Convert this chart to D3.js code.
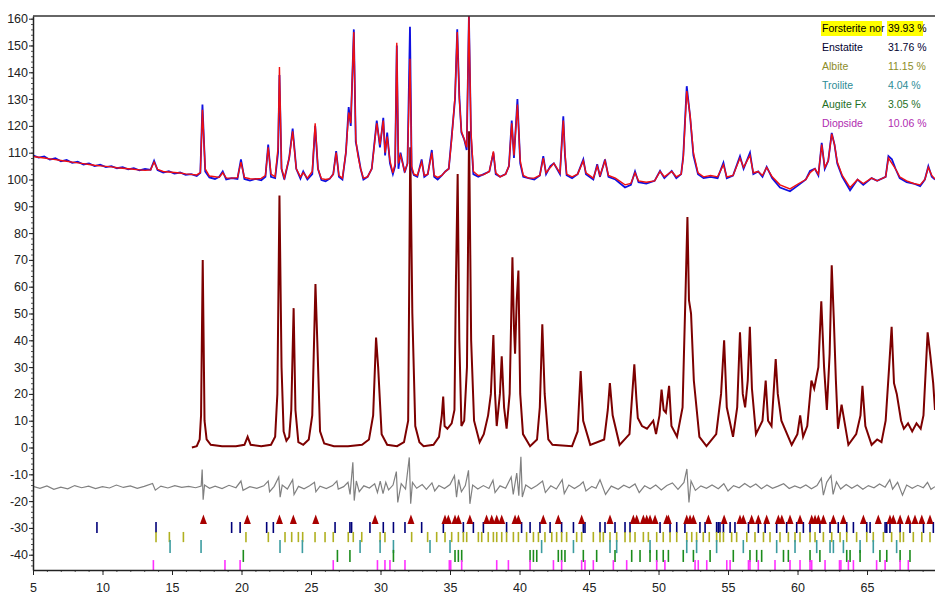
<!DOCTYPE html>
<html>
<head>
<meta charset="utf-8">
<script src="https://cdn.jsdelivr.net/npm/d3@7"></script>
<style>
  body { margin: 0; background: #fff; }
  text { font-family: "Liberation Sans", Arial, sans-serif; }
</style>
</head>
<body>
<script>
// ---- data ----
// upper pattern: observed (blue) and calculated (red) counts
const upperTheta = [5.0,5.4,5.81,6.21,6.61,7.01,7.42,7.82,8.22,8.63,9.03,9.43,9.83,10.24,10.64,11.04,11.45,11.85,12.25,12.65,13.06,13.46,13.71,13.96,14.37,14.77,15.17,15.58,15.98,16.38,16.78,17.04,17.19,17.39,17.69,18.09,18.4,18.65,18.9,19.3,19.71,19.96,20.21,20.61,21.01,21.42,21.72,21.92,22.12,22.42,22.63,22.73,22.88,23.08,23.43,23.68,23.94,24.24,24.44,24.74,25.09,25.3,25.5,25.75,26.05,26.35,26.6,26.81,27.01,27.26,27.51,27.71,27.86,28.08,28.22,28.37,28.57,28.77,29.07,29.37,29.73,29.96,30.2,30.33,30.48,30.68,30.89,31.05,31.17,31.29,31.44,31.74,31.94,32.12,32.24,32.4,32.65,32.96,33.15,33.4,33.69,33.86,34.11,34.41,34.66,34.91,35.12,35.36,35.52,35.67,35.82,36.02,36.2,36.36,36.51,36.68,37.03,37.43,37.83,38.12,38.29,38.6,39.0,39.24,39.44,39.6,39.85,40.05,40.27,40.65,41.06,41.46,41.71,41.91,42.22,42.47,42.91,43.15,43.27,43.39,43.78,44.18,44.59,44.78,45.31,45.59,45.79,46.15,46.4,46.9,47.59,48.01,48.31,48.56,49.12,49.72,50.11,50.42,50.95,51.28,51.63,51.78,52.03,52.27,52.51,52.84,53.24,53.75,54.25,54.67,54.91,55.36,55.86,56.12,56.58,56.82,57.17,57.48,57.78,58.18,58.74,59.46,60.09,60.6,60.9,61.25,61.5,61.74,61.96,62.21,62.46,62.66,62.86,63.22,63.78,64.32,64.73,65.33,65.73,66.34,66.54,66.79,67.05,67.35,67.85,68.35,68.82,69.16,69.41,69.66,69.89]
const observed = [109,108.2,108.6,107.4,107.9,106.8,107.3,106.2,106.6,105.6,106,105,105.5,104.6,105,104.2,104.6,103.8,104.2,103.4,103.9,103.6,107,103.5,102.6,103.1,102.2,102.6,101.7,102,101.3,102.5,128,103,100.8,100.2,101,103,100,100.5,100.2,107.5,100.2,99.6,100.2,99.7,101,113,101,100.5,110,139,104,100,108,119,104,100.3,103,100,102,120,104,99.8,99.3,100.3,102,110.6,101,100,110,127,120,156,114,110,104,100,101,104,122,112,123,109,117.5,106,102,105,150,104,110,102.6,106,157,104,101.6,101,107.5,101,102,111,101,100,101.5,103,104,116,130,156,131,117.5,115,111,161,116,102,101,102,103,110,102,101,102,105,122,108,130,106,101,100.5,100,101.5,108.7,102,105,106,102,123.6,109,101.6,100.5,102,107.5,102,100,105.7,101,107.5,101,100,97,98,103,99,98.5,99.5,103.2,100.5,103.2,100.5,102,108.7,134.8,123.6,109,102,100.5,101,100.5,106.3,100.5,101.5,108.7,104,110,102,103,101,104.7,100.5,97,95.6,98,100,103.2,104,101.5,113.7,104,107,117.4,113,106,101,96,100,98,100.5,99.5,101,108.7,107.5,104,100.5,99,98.5,97.5,100,105,101,100]
const calculated = [108.6,108.3,108,107.7,107.4,107.1,106.8,106.5,106.2,105.9,105.6,105.3,105.1,104.9,104.7,104.4,104.2,104,103.8,103.6,103.4,103.6,106.5,103.8,103,102.8,102.6,102.4,102.1,101.9,101.7,102.6,126,104,101.3,101,100.8,102.5,100.6,100.5,100.7,106.5,100.8,100.3,100.2,100.4,101.5,112,102,101,112,142,104,100.5,108,118,104,101,102.5,100.5,103,121,104,100.3,100,100.3,102,110,101.5,100.5,110,125,121,155,115,109,104,100.5,101,104,121,113,122,110,116,107,102.5,106,151,106,109,103,106,145,105,102,101.5,106.5,101.5,102,110,101.5,100.8,101.5,103,104,115,131,155,130,118,115,112,161,118,103,101.5,101.8,103,110.5,102.5,101,102,105,121,109,128,107,101.5,100.5,100.5,101.5,108,102.5,104.5,106,102.5,122,110,102,101,102,107,102.5,100.5,105,101.5,107,101.5,100.5,98,98.5,102.5,99.5,99,99.5,103,101,103,101,102,108,133,124,110,102.5,101,101.5,101,105.5,101,101.5,108,104.5,109,102.5,103,101.5,104.5,101,98,96.5,98.5,100,102.5,104,102,113,104.5,107,117,113,106.5,101.5,97,100,98.5,100.5,99.5,101,108,106,104,101,99.5,98.5,98,100,104.5,101.5,100.2]

// lower dark red profile (main phase)
const phaseTheta = [16.43,16.78,16.99,17.09,17.21,17.34,17.49,17.79,18.6,19.6,20.21,20.44,20.66,21.42,22.12,22.42,22.58,22.73,22.88,23.03,23.23,23.43,23.58,23.75,23.88,24.09,24.44,24.84,25.09,25.32,25.45,25.65,25.95,26.65,27.66,28.67,29.17,29.47,29.68,29.83,30.08,30.48,31.19,31.69,31.99,32.14,32.29,32.5,32.8,33.1,33.81,34.21,34.41,34.51,34.61,34.81,35.12,35.32,35.42,35.55,35.67,35.82,36.02,36.22,36.37,36.52,36.73,37.13,37.43,37.74,37.94,38.12,38.24,38.36,38.59,38.72,38.89,39.07,39.29,39.49,39.6,39.68,39.8,39.92,40.05,40.25,40.76,41.26,41.46,41.64,41.81,42.07,42.37,43.78,44.18,44.4,44.58,45.09,46.09,46.35,46.5,46.7,47.2,47.91,48.26,48.41,48.51,48.81,49.17,49.62,49.82,50.07,50.22,50.37,50.53,50.76,50.93,51.33,51.73,51.93,52.08,52.19,52.34,52.54,52.94,53.45,54.15,54.5,54.72,54.91,55.36,55.66,55.86,56.06,56.23,56.42,56.57,56.72,57.01,57.48,57.71,57.88,58.13,58.43,58.58,58.84,59.58,59.99,60.19,60.4,60.7,61.0,61.2,61.5,61.71,61.91,62.11,62.31,62.46,62.61,62.76,62.91,63.17,63.66,64.22,64.53,64.67,64.88,65.33,65.73,66.04,66.34,66.59,66.77,66.94,67.14,67.45,67.65,67.95,68.25,68.56,68.86,69.06,69.36,69.56,69.76,69.89]
const phaseCounts = [0,0.5,3,12,70,10,3,1,0.5,0.5,1,4,1,0.5,1,4,20,94,30,6,2.5,4,14,52,14,2,1,3,12,61,40,6,1.5,0.5,0.5,1,3,12,41,30,5,1,0.5,2,10,112,50,8,2,0.5,1,4,12,19,8,7,9,14,60,102,40,8,10,30,118,40,10,2,5,12,20,42,20,8,20,34,15,7,20,71,45,35,55,66,20,5,0.5,3,15,46,20,3,1,0.5,6,28.5,10,1,3,14,24,12,1,5,31,18,11,8,7,10,5,12,21.6,14,13,23,8,4,15,55,86,55,50,25,4,0.5,5,20,40,15,4,15,43,20,15,25,45,22,5,10,25,10,8,33,20,10,1,5,12,4,8,25,22,30,54.6,30,14,35,68,48,25,7,16,1,5,12,23,8,1,3,2,10,30,45,24,20,10,7,9,6,9,7,12,43,34,24,14]

// difference curve (grey), offset below zero
const diffTheta = [5.0,5.5,6.0,6.5,7.0,7.5,8.0,8.5,9.0,9.5,10.0,10.5,11.0,11.5,12.0,12.5,13.0,13.6,13.8,14.2,14.7,15.2,15.7,16.2,16.7,17.1,17.17,17.24,17.34,17.7,18.1,18.6,19.1,19.6,19.96,20.11,20.6,21.1,21.6,21.92,22.02,22.35,22.68,22.78,22.93,23.3,23.68,23.78,24.1,24.5,24.9,25.25,25.35,25.65,26.1,26.55,26.86,26.96,27.35,27.66,27.81,28.01,28.11,28.26,28.47,28.8,29.2,29.58,29.78,29.98,30.18,30.38,30.58,30.9,31.14,31.24,31.49,31.8,32.07,32.17,32.3,32.6,33.0,33.3,33.7,33.9,34.2,34.6,35.0,35.32,35.47,35.62,35.82,36.1,36.33,36.43,36.63,37.0,37.4,37.8,38.09,38.24,38.6,39.0,39.4,39.55,39.8,39.95,40.1,40.2,40.45,40.85,41.25,41.66,41.86,42.25,42.65,43.07,43.22,43.55,43.95,44.35,44.58,44.78,45.2,45.5,45.79,46.19,46.6,47.1,47.5,47.9,48.31,48.61,49.0,49.4,49.8,50.2,50.6,51.0,51.4,51.83,52.04,52.19,52.34,52.65,53.05,53.45,53.85,54.3,54.7,55.0,55.4,55.8,56.2,56.6,57.0,57.4,57.8,58.2,58.6,59.0,59.4,59.8,60.2,60.6,61.0,61.4,61.71,61.86,62.1,62.41,62.56,62.8,63.1,63.5,63.9,64.3,64.7,65.1,65.5,65.9,66.3,66.64,66.84,67.2,67.55,67.85,68.25,68.65,69.05,69.35,69.6,69.89]
const diffCounts = [-14.5,-15.2,-14.3,-15.6,-14.8,-15.4,-14.2,-15,-14.4,-15.3,-14.6,-15.1,-14,-14.9,-14.3,-15.2,-14.5,-13.4,-15.9,-14.4,-15.1,-14.2,-14.9,-14.5,-15,-14.4,-8.2,-19.5,-14,-15.2,-14.4,-15.3,-14.1,-15,-12.5,-16,-14.6,-15.2,-14.3,-12.5,-16.5,-14.5,-11,-18.5,-14,-15.5,-12,-17.5,-14.5,-15.4,-14.3,-13,-16.5,-14.4,-15.3,-14.2,-12.5,-15.5,-14.6,-13,-17.5,-5.5,-19.8,-12.5,-16.5,-14.3,-15.1,-13.5,-16.8,-12.5,-17.2,-13,-15.8,-14,-9,-20.5,-13.5,-15.5,-3.7,-21,-13,-15.2,-13.8,-15.6,-13.2,-16.2,-14.2,-15.3,-13.8,-10.5,-18.5,-12,-16.5,-14.2,-8.5,-21,-14,-15.5,-14.2,-15.3,-12.2,-16.8,-14.3,-15.2,-11,-17.5,-9.5,-18,-3.5,-18.5,-14,-15.4,-14.2,-12.5,-16.8,-14.3,-15.5,-12,-17.2,-14,-15.3,-14,-12.8,-16.2,-14.5,-15.2,-12,-17.5,-14.4,-15.6,-14.1,-15,-13.6,-16.8,-14.3,-15.4,-14,-15.8,-14.2,-13.2,-15.6,-13,-8,-20.5,-12.5,-16,-14.3,-15.2,-14,-15.4,-13.5,-16.2,-14.2,-15,-13.4,-14.8,-13.6,-15.4,-14,-15.2,-14.4,-13.5,-15.3,-14.3,-15.1,-14,-15.4,-14.2,-11.5,-17.8,-13,-10.5,-17.5,-12.8,-15.5,-13.8,-15.2,-14,-15.6,-14.2,-15,-13.6,-14.8,-12,-15.5,-13,-17.8,-14,-15.2,-14.1,-15,-13,-15.6,-14.6]

// phases: legend and reflection ticks
const phaseNames = ["Forsterite nor", "Enstatite", "Albite", "Troilite", "Augite Fx", "Diopside"]
const phaseWeights = [39.93, 31.76, 11.15, 4.04, 3.05, 10.06]
const forsteriteTicks = [17.26,20.42,22.73,23.73,25.34,29.61,32.19,34.64,34.88,35.36,35.6,36.43,37.63,38.0,38.36,38.72,39.68,39.92,41.71,42.79,44.47,46.51,48.19,48.43,48.91,49.15,49.39,49.75,50.59,50.71,52.03,52.27,52.51,53.59,54.72,55.86,56.1,56.7,57.18,57.78,58.62,58.87,59.46,60.18,61.02,61.26,61.5,61.86,62.58,63.3,64.74,65.81,66.65,66.89,67.38,67.97,68.45,68.94,69.53]
const enstatiteTicks = [9.6,13.85,19.29,19.9,21.81,22.29,26.73,27.8,27.92,29.24,30.2,30.93,31.76,32.96,34.52,35.96,36.68,37.4,39.07,40.15,40.76,41.47,42.2,43.03,43.88,44.59,44.71,45.79,46.15,46.87,47.59,47.95,50.11,50.83,51.31,51.9,52.98,53.35,54.18,54.3,54.42,54.67,55.15,55.5,56.47,57.18,57.67,58.5,59.22,59.94,60.42,60.9,61.61,62.34,62.93,63.54,64.02,64.98,65.22,66.3,66.42,66.65,67.38,68.09,69.06,69.77]
const albiteTicks = [13.85,14.81,15.82,20.32,21.93,23.13,23.61,24.09,24.4,25.29,26.01,26.6,27.68,28.04,28.65,29.97,30.32,32.24,33.39,34.04,34.64,35.12,35.6,35.96,36.2,37.04,37.28,37.75,38.12,38.36,38.72,39.07,39.56,39.92,40.51,41.0,41.36,41.83,42.32,42.67,43.03,43.39,44.11,44.47,45.31,45.79,46.03,46.51,46.99,47.59,47.95,48.31,48.91,49.27,49.87,50.34,50.83,51.31,52.03,52.39,52.74,53.22,53.65,54.18,54.42,54.67,55.26,55.62,56.35,56.94,57.55,58.02,58.74,59.34,59.82,60.18,60.9,61.26,61.86,62.46,63.06,63.54,64.25,64.98,65.45,66.18,66.77,67.38,67.62,68.33,68.94,69.53]
const troiliteTicks = [14.86,17.09,22.77,24.38,28.53,29.97,30.93,33.56,35.0,41.59,43.88,46.51,46.99,49.39,52.03,52.74,54.18,56.1,58.5,59.82,61.38,62.34,62.58,63.3,64.5,65.45,67.13]
const augiteTicks = [20.13,26.9,27.8,30.93,35.36,35.6,35.84,40.76,41.0,41.24,42.79,43.03,43.27,44.59,45.55,46.87,48.07,48.67,49.39,49.87,50.34,50.71,51.78,52.51,53.71,55.38,56.58,57.06,57.42,58.99,59.34,60.9,61.61,63.54,63.78,64.5,65.93,66.42,67.38,68.09]
const diopsideTicks = [13.66,18.81,19.9,26.6,29.78,30.32,30.68,31.76,34.95,35.05,35.84,38.36,39.2,40.76,42.44,43.03,44.47,44.71,45.31,46.75,47.71,49.87,50.46,52.63,52.86,53.47,54.91,55.15,56.47,56.58,57.18,58.38,59.46,60.18,60.9,61.02,61.98,63.02,63.12,63.66,64.02,65.69,66.3,67.38,67.97]

const xTicks = d3.range(5, 66, 5)
const yTicks = d3.range(-40, 161, 10)

// ---- layout ----
const svgWidth = 935
const svgHeight = 594
const margin = { top: 16, right: 0, bottom: 24, left: 33 }
const chartWidth = svgWidth - margin.left - margin.right
const chartHeight = svgHeight - margin.top - margin.bottom

const svg = d3.select("body").append("svg")
  .attr("width", svgWidth)
  .attr("height", svgHeight)

const chartG = svg.append("g")
  .attr("transform", `translate(${margin.left}, ${margin.top})`)

const x = d3.scaleLinear().domain([5, 69.89]).range([0, chartWidth])
const y = d3.scaleLinear().domain([-45.7, 161]).range([chartHeight, 0])

svg.append("defs").append("clipPath").attr("id", "plot")
  .append("rect").attr("width", chartWidth).attr("height", chartHeight)

const plot = chartG.append("g").attr("clip-path", "url(#plot)")

const line = d3.line().x(d => x(d[0])).y(d => y(d[1]))
const pairs = (xs, ys) => xs.map((t, i) => [t, ys[i]])

// lower phase profile
plot.append("path")
  .datum(pairs(phaseTheta, phaseCounts))
  .attr("d", line)
  .attr("fill", "none")
  .attr("stroke", "#7d0000")
  .attr("stroke-width", 2)

// difference
plot.append("path")
  .datum(pairs(diffTheta, diffCounts))
  .attr("d", line)
  .attr("fill", "none")
  .attr("stroke", "#808080")
  .attr("stroke-width", 1.2)

// observed then calculated on top
plot.append("path")
  .datum(pairs(upperTheta, observed))
  .attr("d", line)
  .attr("fill", "none")
  .attr("stroke", "#1010e0")
  .attr("stroke-width", 1.8)

plot.append("path")
  .datum(pairs(upperTheta, calculated))
  .attr("d", line)
  .attr("fill", "none")
  .attr("stroke", "#f01010")
  .attr("stroke-width", 1.4)

// reflection ticks, one row per phase
const tickRows = [
  { ticks: enstatiteTicks, top: -27.8, bottom: -31.9, color: "#00007a" },
  { ticks: albiteTicks, top: -31.5, bottom: -35.3, color: "#b0b020" },
  { ticks: troiliteTicks, top: -34.5, bottom: -39.4, color: "#3c9ca0" },
  { ticks: augiteTicks, top: -38.2, bottom: -42.7, color: "#1c8c1c" },
  { ticks: diopsideTicks, top: -42.0, bottom: -45.7, color: "#ff30ff" }
]

tickRows.forEach(row => {
  plot.append("g").selectAll("line")
    .data(row.ticks)
    .enter()
    .append("line")
    .attr("x1", d => x(d)).attr("x2", d => x(d))
    .attr("y1", y(row.top)).attr("y2", y(row.bottom))
    .attr("stroke", row.color)
    .attr("stroke-width", 1.6)
})

// forsterite marks are small triangles
plot.append("g").selectAll("path")
  .data(forsteriteTicks)
  .enter()
  .append("path")
  .attr("d", d => `M${x(d) - 3.5},${y(-28.5)}L${x(d)},${y(-25)}L${x(d) + 3.5},${y(-28.5)}Z`)
  .attr("fill", "#a80000")

// ---- axes ----
const axisColor = "#222"

const yMinor = chartG.append("g")
  .call(d3.axisLeft(y).tickValues(d3.range(-44, 161, 2)).tickSize(2).tickFormat(""))
const yAxisG = chartG.append("g")
  .call(d3.axisLeft(y).tickValues(yTicks).tickSize(4).tickSizeOuter(0).tickFormat(d => String(d)))

const xMinor = chartG.append("g")
  .attr("transform", `translate(0, ${chartHeight})`)
  .call(d3.axisBottom(x).tickValues(d3.range(5, 70, 1)).tickSize(2).tickFormat(""))
const xAxisG = chartG.append("g")
  .attr("transform", `translate(0, ${chartHeight})`)
  .call(d3.axisBottom(x).tickValues(xTicks).tickSize(5).tickSizeOuter(0))

;[yMinor, xMinor].forEach(g => {
  g.select(".domain").remove()
  g.selectAll("line").attr("stroke", "#555")
})
;[yAxisG, xAxisG].forEach(g => {
  g.select(".domain").attr("stroke", axisColor).attr("stroke-width", 1.5)
  g.selectAll("line").attr("stroke", axisColor)
  g.selectAll("text")
    .attr("fill", axisColor)
    .style("font-size", "12.5px")
    .style("font-family", "'Liberation Sans', Arial, sans-serif")
})
yAxisG.selectAll("text").attr("x", -5)
xAxisG.selectAll("text").attr("y", 13)

// top frame line
chartG.append("line")
  .attr("x1", 0).attr("x2", chartWidth)
  .attr("y1", 0).attr("y2", 0)
  .attr("stroke", "#333")
  .attr("stroke-width", 1.5)

// ---- legend ----
const legendColors = ["#000", "#000030", "#8c8c28", "#2d8c96", "#1f6f1f", "#b02cb0"]
const legendG = svg.append("g").attr("transform", "translate(822, 32)")

legendG.append("rect")
  .attr("x", -1).attr("y", -11).attr("width", 61).attr("height", 15)
  .attr("fill", "#ffff00")
legendG.append("rect")
  .attr("x", 65).attr("y", -11).attr("width", 36).attr("height", 15)
  .attr("fill", "#ffff00")

const legendRows = legendG.selectAll("g.row")
  .data(phaseNames)
  .enter()
  .append("g")
  .attr("class", "row")
  .attr("transform", (d, i) => `translate(0, ${i * 19})`)

legendRows.append("text")
  .text(d => d)
  .attr("fill", (d, i) => legendColors[i])
  .style("font-size", "10.5px")

legendRows.append("text")
  .text((d, i) => `${phaseWeights[i].toFixed(2)} %`)
  .attr("x", 66)
  .attr("fill", (d, i) => legendColors[i])
  .style("font-size", "10.5px")
</script>
</body>
</html>
